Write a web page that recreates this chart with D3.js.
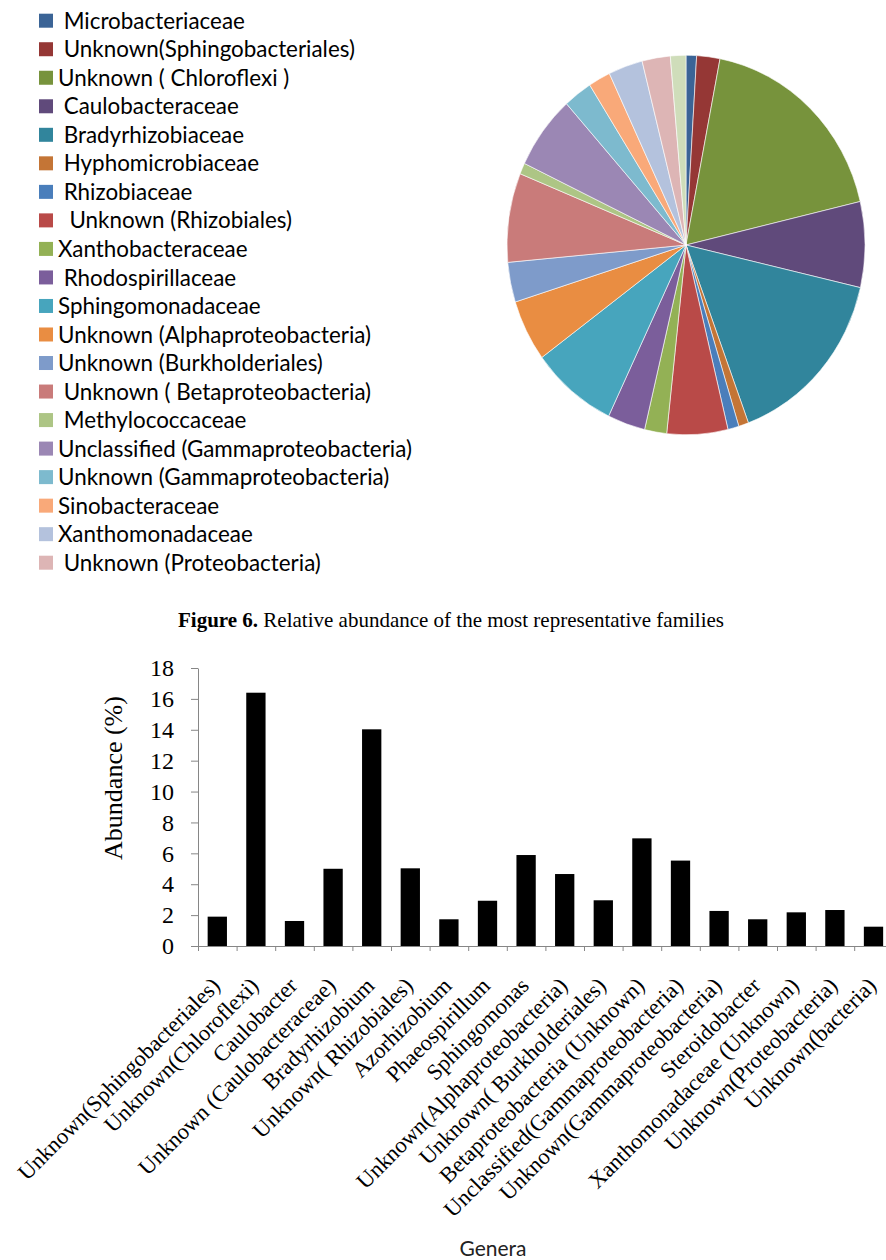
<!DOCTYPE html>
<html>
<head>
<meta charset="utf-8">
<script src="https://cdn.jsdelivr.net/npm/d3@7/dist/d3.min.js"></script>
<style>
  body { margin: 0; background: #fff; }
  svg { display: block; }
</style>
</head>
<body>
<script>
// families in the pie (legend shows the first 20, the last slice is unlabeled)
const families = [
  " Microbacteriaceae", " Unknown(Sphingobacteriales)", "Unknown ( Chloroflexi )",
  " Caulobacteraceae", " Bradyrhizobiaceae", " Hyphomicrobiaceae", " Rhizobiaceae",
  "  Unknown (Rhizobiales)", "Xanthobacteraceae", " Rhodospirillaceae", "Sphingomonadaceae",
  "Unknown (Alphaproteobacteria)", "Unknown (Burkholderiales)", " Unknown ( Betaproteobacteria)",
  " Methylococcaceae", "Unclassified (Gammaproteobacteria)", "Unknown (Gammaproteobacteria)",
  "Sinobacteraceae", "Xanthomonadaceae", " Unknown (Proteobacteria)", "Unknown (bacteria)"
];
const familyShares = [
  0.95, 2.1, 18.3, 7.3, 15.75, 0.9, 1.0, 5.5, 2.0, 3.4, 7.8,
  5.25, 3.4, 7.6, 0.95, 6.3, 2.6, 2.0, 3.1, 2.55, 1.4
];
const familyColors = [
  "#3b6496", "#953735", "#77933c", "#604a7b", "#31859c", "#c47536", "#4a7ebb",
  "#b94a48", "#93b155", "#7b5e9b", "#47a5bd", "#e98d42", "#7e9bca", "#c97b7a",
  "#adc585", "#9b87b4", "#7dbace", "#f9a979", "#b4c2dd", "#ddb5b5", "#cfddba"
];
const legendCount = 20;

// genera in the bar chart
const genera = [
  "Unknown(Sphingobacteriales)", "Unknown(Chloroflexi)", "Caulobacter",
  "Unknown (Caulobacteraceae)", "Bradyrhizobium", "Unknown( Rhizobiales)",
  "Azorhizobium", "Phaeospirillum", "Sphingomonas", "Unknown(Alphaproteobacteria)",
  "Unknown( Burkholderiales)", "Betaproteobacteria (Unknown)",
  "Unclassified(Gammaproteobacteria)", "Unknown(Gammaproteobacteria)",
  "Steroidobacter", "Xanthomonadaceae (Unknown)", "Unknown(Proteobacteria)",
  "Unknown(bacteria)"
];
const generaAbundance = [
  1.9, 16.4, 1.62, 5.0, 14.03, 5.03, 1.73, 2.93, 5.89, 4.66,
  2.96, 6.97, 5.53, 2.27, 1.73, 2.18, 2.33, 1.25
];
const yTicks = [0, 2, 4, 6, 8, 10, 12, 14, 16, 18];

const width = 886, height = 1260;
const serif = '"Liberation Serif", "Times New Roman", serif';
const sans = 'Lato, "Open Sans", sans-serif';

const svg = d3.select('body').append('svg')
    .attr('width', width)
    .attr('height', height);

// ---------- pie ----------
const pieCx = 686, pieCy = 245, pieR = 179, pieStretch = 1.06;
const pie = d3.pie().sort(null).value(d => d);
const arc = d3.arc().innerRadius(0).outerRadius(pieR);

svg.append('g')
    .attr('transform', `translate(${pieCx},${pieCy}) scale(1,${pieStretch})`)
    .selectAll('path')
    .data(pie(familyShares))
    .enter().append('path')
    .attr('d', arc)
    .attr('fill', (d, i) => familyColors[i])
    .attr('stroke', '#fff')
    .attr('stroke-width', 0.6)
    .attr('vector-effect', 'non-scaling-stroke');

// legend
const legendY = d3.scaleLinear().domain([0, legendCount - 1]).range([20.7, 562.7]);
const legend = svg.append('g').attr('class', 'legend');
families.slice(0, legendCount).forEach((name, i) => {
    legend.append('rect')
        .attr('x', 39)
        .attr('y', legendY(i) - 7)
        .attr('width', 14)
        .attr('height', 14)
        .attr('fill', familyColors[i]);
    legend.append('text')
        .attr('x', 58)
        .attr('y', legendY(i))
        .attr('dy', '0.36em')
        .attr('xml:space', 'preserve')
        .style('white-space', 'pre')
        .style('font-family', sans)
        .style('font-size', '22.4px')
        .style('fill', '#000')
        .text(name);
});

// caption
const caption = svg.append('text')
    .attr('x', 451)
    .attr('y', 627)
    .attr('text-anchor', 'middle')
    .style('font-family', serif)
    .style('font-size', '21px');
caption.append('tspan').style('font-weight', 'bold').text('Figure 6.');
caption.append('tspan').text(' Relative abundance of the most representative families');

// ---------- bar chart ----------
const x0 = 198, step = 38.6, y0 = 946;
const x = d3.scaleBand()
    .domain(genera)
    .range([x0, x0 + genera.length * step])
    .paddingInner(0.5)
    .paddingOuter(0.25);
const y = d3.scaleLinear().domain([0, 18]).range([y0, 668]);

svg.selectAll('.bar')
    .data(genera)
    .enter().append('rect')
    .attr('class', 'bar')
    .attr('x', d => x(d))
    .attr('y', (d, i) => y(generaAbundance[i]))
    .attr('width', x.bandwidth())
    .attr('height', (d, i) => y0 - y(generaAbundance[i]))
    .attr('fill', '#000');

// y axis
const yAxis = svg.append('g')
    .attr('transform', `translate(${x0},0)`)
    .call(d3.axisLeft(y).tickValues(yTicks).tickSize(7).tickPadding(17).tickSizeOuter(0));
yAxis.selectAll('path, line').attr('stroke', '#868686');
yAxis.selectAll('text')
    .style('font-family', serif)
    .style('font-size', '24px')
    .style('fill', '#000');

// x axis with ticks between categories
const xEdges = d3.scaleLinear().domain([0, genera.length]).range(x.range());
const xAxis = svg.append('g')
    .attr('transform', `translate(0,${y0})`)
    .call(d3.axisBottom(xEdges).tickValues(d3.range(genera.length + 1)).tickSize(5).tickSizeOuter(0).tickFormat(''));
xAxis.selectAll('path, line').attr('stroke', '#868686');

// rotated category labels
svg.selectAll('.xlabel')
    .data(genera)
    .enter().append('text')
    .attr('class', 'xlabel')
    .attr('transform', d => `translate(${x(d) + x.bandwidth() / 2 + 4},987) rotate(-45)`)
    .attr('text-anchor', 'end')
    .attr('xml:space', 'preserve')
    .style('white-space', 'pre')
    .style('font-family', serif)
    .style('font-size', '22.5px')
    .text(d => d);

// axis titles
svg.append('text')
    .attr('transform', 'translate(122,778) rotate(-90)')
    .attr('text-anchor', 'middle')
    .style('font-family', serif)
    .style('font-size', '26px')
    .text('Abundance (%)');

svg.append('text')
    .attr('x', 493)
    .attr('y', 1256)
    .attr('text-anchor', 'middle')
    .style('font-family', sans)
    .style('font-size', '21px')
    .style('fill', '#222')
    .text('Genera');
</script>
</body>
</html>
